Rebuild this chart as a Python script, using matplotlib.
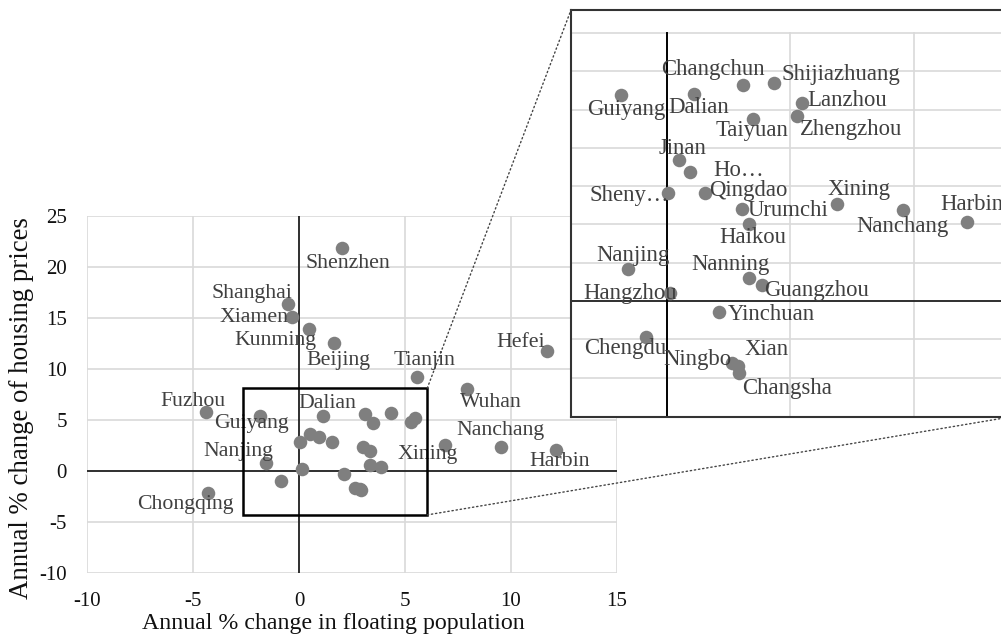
import numpy as np
import matplotlib.pyplot as plt
from matplotlib.patches import Rectangle, ConnectionPatch

plt.rcParams['font.family'] = ['Liberation Serif', 'DejaVu Serif']
plt.rcParams['axes.unicode_minus'] = False

cities = ['Shenzhen', 'Shanghai', 'Xiamen', 'Kunming', 'Beijing', 'Tianjin', 'Hefei', 'Wuhan',
          'Fuzhou', 'Chongqing', 'Guiyang', 'Dalian', 'Changchun', 'Shijiazhuang', 'Lanzhou',
          'Zhengzhou', 'Taiyuan', 'Jinan', 'Hohhot', 'Shenyang', 'Qingdao', 'Xining', 'Nanchang',
          'Harbin', 'Urumchi', 'Haikou', 'Nanjing', 'Hangzhou', 'Nanning', 'Guangzhou',
          'Yinchuan', 'Chengdu', 'Ningbo', 'Xian', 'Changsha']
pop_change = [2.03, -0.52, -0.31, 0.47, 1.67, 5.55, 11.68, 7.91,
              -4.39, -4.28, -1.85, 1.12, 3.10, 4.36, 5.47,
              5.29, 3.48, 0.50, 0.95, 0.05, 1.57, 6.90, 9.55,
              12.14, 3.04, 3.33, -1.55, 0.12, 3.34, 3.85,
              2.10, -0.85, 2.63, 2.90, 2.94]
price_change = [21.9, 16.4, 15.1, 13.95, 12.55, 9.2, 11.73, 8.1,
                5.78, -2.16, 5.37, 5.41, 5.65, 5.70, 5.17,
                4.84, 4.76, 3.68, 3.38, 2.83, 2.83, 2.54, 2.37,
                2.06, 2.40, 2.00, 0.83, 0.22, 0.60, 0.42,
                -0.30, -0.93, -1.63, -1.70, -1.87]

# zoom window drawn on the main chart
zoom_box = (-2.66, -4.28, 6.05, 8.14)

# label offsets in pixels (dx, dy downwards)
main_labels = {
    'Shenzhen': (5.5, 16), 'Shanghai': (-36, -10), 'Xiamen': (-38, 0),
    'Kunming': (-34, 12), 'Beijing': (4.4, 17), 'Tianjin': (7.5, -16.6),
    'Hefei': (-26, -9.4), 'Wuhan': (24.5, 14), 'Nanchang': (-0.7, -16.6),
    'Xining': (-17.7, 9.7), 'Harbin': (3.3, 11), 'Fuzhou': (-12.7, -10.6),
    'Guiyang': (-8.7, 6.7), 'Dalian': (4.5, -12.7), 'Nanjing': (-28, -11),
    'Chongqing': (-22.5, 11.7),
}
inset_labels = {
    'Changchun': ('Changchun', -30, -15.3), 'Shijiazhuang': ('Shijiazhuang', 66.5, -8.3),
    'Guiyang': ('Guiyang', 4.8, 13.7), 'Dalian': ('Dalian', 4.5, 14),
    'Lanzhou': ('Lanzhou', 45, -2.3), 'Taiyuan': ('Taiyuan', -0.7, 11.7),
    'Zhengzhou': ('Zhengzhou', 53.9, 14), 'Jinan': ('Jinan', 3.5, -11.7),
    'Hohhot': ('Ho…', 48.3, -1), 'Shenyang': ('Sheny…', -38.9, 2.7),
    'Qingdao': ('Qingdao', 42.5, -2.3), 'Xining': ('Xining', 22.3, -14.7),
    'Nanchang': ('Nanchang', 0, 16.7), 'Harbin': ('Harbin', 5, -18),
    'Urumchi': ('Urumchi', 46.1, 1), 'Haikou': ('Haikou', 4.3, 13.3),
    'Nanjing': ('Nanjing', 5, -13.3), 'Hangzhou': ('Hangzhou', -39.6, 1),
    'Nanning': ('Nanning', -19, -13.3), 'Guangzhou': ('Guangzhou', 54.5, 5.3),
    'Yinchuan': ('Yinchuan', 52.5, 2.3), 'Chengdu': ('Chengdu', -20.8, 11.6),
    'Ningbo': ('Ningbo', -33.9, -4), 'Xian': ('Xian', 28.4, -16.7),
    'Changsha': ('Changsha', 47.4, 15.6),
}

dot_color = '#7f7f7f'
text_color = '#404040'
grid_color = '#d9d9d9'

fig = plt.figure(figsize=(10.01, 6.42), dpi=100)

# ---- main chart
ax = fig.add_axes([87 / 1001, 1 - 573.3 / 642, 530 / 1001, 357.3 / 642])
ax.set_xlim(-10, 15)
ax.set_ylim(-10, 25)
for s in ax.spines.values():
    s.set_visible(False)
ax.set_xticks(np.arange(-10, 16, 5))
ax.set_yticks(np.arange(-10, 26, 5))
ax.grid(True, color=grid_color, lw=1.2, zorder=0)
ax.set_axisbelow(True)
ax.tick_params(length=0, labelsize=15, labelcolor='#111111')
ax.tick_params(axis='x', pad=13.5)
ax.tick_params(axis='y', pad=14.4)
ax.axhline(0, color='black', lw=1.1, zorder=1)
ax.axvline(0, color='black', lw=1.1, zorder=1)
ax.scatter(pop_change, price_change, s=95, color=dot_color, lw=0, zorder=3)
for name, (dx, dy) in main_labels.items():
    i = cities.index(name)
    ax.annotate(name, (pop_change[i], price_change[i]), xytext=(dx, -dy),
                textcoords='offset pixels', ha='center', va='center',
                fontsize=15.7, color=text_color, zorder=4)
x0, y0, x1, y1 = zoom_box
ax.add_patch(Rectangle((x0, y0), x1 - x0, y1 - y0, fill=False, ec='black', lw=1.8, zorder=5))
fig.text(333 / 1001, 1 - 623 / 642, 'Annual % change in floating population',
         ha='center', va='center', fontsize=17.2, color='#111111')
fig.text(22 / 1001, 1 - 408 / 642, 'Annual % change of housing prices',
         ha='center', va='center', rotation=90, fontsize=19.4, color='#111111')

# ---- inset
ins = fig.add_axes([571 / 1001, 1 - 417 / 642, 439 / 1001, 407 / 642])
ins.set_xlim(-3.874, 13.9)
ins.set_ylim(-3.03, 7.6)
ins.set_xticks([])
ins.set_yticks([])
for s in ins.spines.values():
    s.set_color('#333333')
    s.set_linewidth(1.5)
for yv in range(-2, 8):
    ins.axhline(yv, color=grid_color, lw=1.2, zorder=0)
for xv in (5, 10):
    ins.plot([xv, xv], [-3.03, 7], color=grid_color, lw=1.2, zorder=0)
ins.axhline(0, color='black', lw=1.1, zorder=1)
ins.plot([0, 0], [-3.03, 7], color='black', lw=1.4, zorder=1)
ins.scatter(pop_change, price_change, s=95, color=dot_color, lw=0, zorder=3)
for name, (label, dx, dy) in inset_labels.items():
    i = cities.index(name)
    ins.annotate(label, (pop_change[i], price_change[i]), xytext=(dx, -dy),
                 textcoords='offset pixels', ha='center', va='center',
                 fontsize=16.4, color=text_color, zorder=4, annotation_clip=False)

# dotted connectors
for xyA, xyB in [((x1, y1), (0, 1)), ((x1, y0), (1, 0))]:
    con = ConnectionPatch(xyA=xyA, coordsA=ax.transData, xyB=xyB, coordsB=ins.transAxes,
                          linestyle=(0, (1, 2)), color='#444444', lw=1)
    fig.add_artist(con)

fig.savefig('out.png', dpi=100)
